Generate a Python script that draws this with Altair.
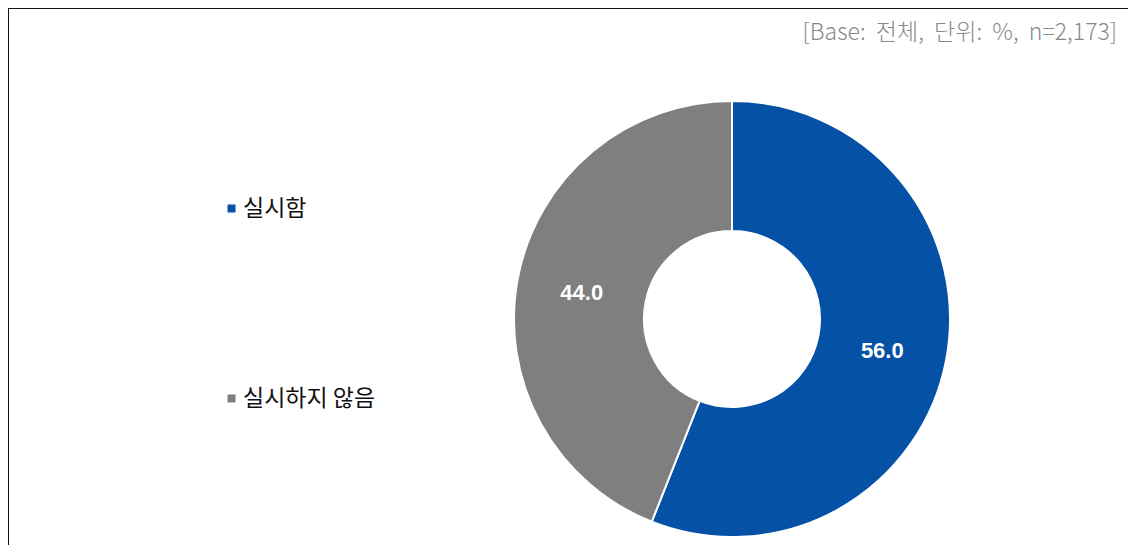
import altair as alt
import pandas as pd

categories = ["실시함", "실시하지 않음"]
values = [56.0, 44.0]
labels = ["56.0", "44.0"]
order = [0, 1]
colors = ["#0451A5", "#7F7F7F"]
note = ["[Base:\u00a0 전체,\u00a0 단위:\u00a0 %,\u00a0 n=2,173]"]

df = pd.DataFrame({"cat": categories, "value": values, "label": labels, "ord": order})

W, H = 1120, 537
CX, CY = 724, 311

base = alt.Chart(df).encode(
    theta=alt.Theta("value:Q", stack=True),
    order=alt.Order("ord:Q"),
)

arc = base.mark_arc(outerRadius=218, innerRadius=88, stroke="white", strokeWidth=2,
                    x=CX, y=CY).encode(
    color=alt.Color(
        "cat:N",
        scale=alt.Scale(domain=categories, range=colors),
        sort=categories,
        legend=alt.Legend(
            title=None, orient="none", legendX=212, legendY=189,
            symbolType="square", symbolSize=64, symbolStrokeWidth=0,
            labelFontSize=23, labelFont="Noto Sans CJK KR", labelColor="#111111",
            rowPadding=166, labelOffset=0, padding=0,
        ),
    )
)

text = base.mark_text(radius=153, x=CX, y=CY, dy=3, font="Liberation Sans", fontSize=22,
                      fontWeight="bold", color="white").encode(text="label:N")

note_df = pd.DataFrame({"t": note})
note_mark = alt.Chart(note_df).mark_text(
    align="right", baseline="middle", font="Noto Sans CJK KR", fontSize=23,
    color="#888888", fontWeight=300
).encode(x=alt.value(1109), y=alt.value(25), text="t:N")

border_df = pd.DataFrame({"a": [0]})
left_border = alt.Chart(border_df).mark_rule(color="#111111", strokeWidth=2).encode(
    x=alt.value(0), y=alt.value(0), y2=alt.value(H))
top_border = alt.Chart(border_df).mark_rule(color="#111111", strokeWidth=2).encode(
    x=alt.value(0), x2=alt.value(W), y=alt.value(0))

chart = alt.layer(arc, text, note_mark, left_border, top_border).properties(
    width=W, height=H, padding=0, autosize=alt.AutoSizeParams(type="none")
).configure_view(stroke=None)

chart.save("out.html", embed_options={"renderer": "svg", "actions": False})
